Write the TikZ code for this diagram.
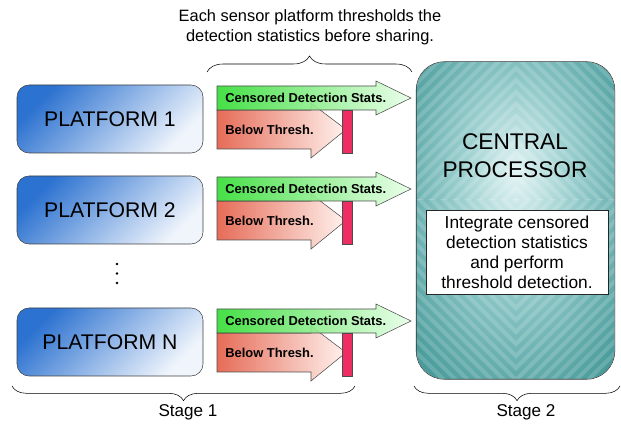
\documentclass[tikz,border=0pt]{standalone}
\usepackage{fontspec}
\setmainfont{Liberation Sans}
\usetikzlibrary{decorations.pathreplacing,positioning}

\definecolor{platblue}{RGB}{44,114,208}
\definecolor{platpale}{RGB}{240,245,252}
\definecolor{censgreen}{RGB}{50,220,50}
\definecolor{censpale}{RGB}{232,255,232}
\definecolor{belowred}{RGB}{230,108,88}
\definecolor{belowpale}{RGB}{255,242,238}
\definecolor{threshbar}{RGB}{238,46,98}
\definecolor{procteal}{RGB}{30,126,126}
\definecolor{procedge}{RGB}{74,156,156}
\definecolor{procmid}{RGB}{150,204,204}
\definecolor{proclight}{RGB}{226,243,243}

\pgfdeclareradialshading{procglow}{\pgfpoint{0bp}{8bp}}{%
  color(0bp)=(proclight); color(15bp)=(procmid); color(34bp)=(procedge);
  color(50bp)=(procteal)}

\tikzset{
  platform/.style={draw=black!75, rounded corners=9pt,
    minimum width=139.5pt, minimum height=51pt,
    top color=platblue, bottom color=platpale, shading angle=45,
    font=\fontsize{15.9}{18}\selectfont},
  censarrow/.style={draw=black!70, left color=censgreen, right color=censpale, fill opacity=0.9},
  belowarrow/.style={draw=black!70, left color=belowred, right color=belowpale},
  arrowtext/.style={anchor=west, inner sep=0pt, font=\bfseries\fontsize{9.7}{11}\selectfont},
  topbrace/.style={decorate, decoration={brace, amplitude=12pt}},
  stagebrace/.style={decorate, decoration={brace, amplitude=11pt}},
  plaintext/.style={align=center, font=\fontsize{12.3}{15}\selectfont},
  stagetext/.style={font=\fontsize{12.8}{15}\selectfont},
}

\begin{document}
\begin{tikzpicture}[x=0.75pt, y=-0.75pt]
  \useasboundingbox (0,0) rectangle (621,427);

  % --- legenda in alto ---
  \node[plaintext] (caption) at (310,27) {Each sensor platform thresholds the\\detection statistics before sharing.};
  \draw[topbrace] (207,72) -- (412,72);

  % --- piattaforme ---
  \node[platform] (plat1) at (110,119) {PLATFORM 1};
  \node[platform] (plat2) at (110,210) {PLATFORM 2};
  \node[platform] (platN) at (110,342) {PLATFORM N};
  \foreach \d in {264,273.5,283}
    \fill (117,\d) circle (1.3);

  % --- frecce di soglia, una per piattaforma ---
  \foreach \y in {119,210,342} {
    \draw[belowarrow] (217,\y-9) -- (311,\y-9) -- (311,\y-16) -- (346,\y+10.5)
      -- (311,\y+39) -- (311,\y+30) -- (217,\y+30) -- cycle;
    \fill[threshbar, draw=black!70] (342,\y-9) rectangle (352,\y+34);
    \draw[censarrow] (217,\y-33) -- (376,\y-33) -- (376,\y-38) -- (411,\y-21)
      -- (376,\y-4) -- (376,\y-9) -- (217,\y-9) -- cycle;
    \node[arrowtext] at (225,\y-21) {Censored Detection Stats.};
    \node[arrowtext] at (225,\y+10.5) {Below Thresh.};
  }

  % --- processore centrale: sfumatura + righe a spina di pesce ---
  \node[rounded corners=21pt, minimum width=148.5pt, minimum height=237.75pt,
    shading=procglow] (proc) at (515.5,220.5) {};
  \begin{scope}
    \clip[rounded corners=21pt] (proc.north west) rectangle (proc.south east);
    \foreach \sx/\sy in {1/1,-1/1,1/-1,-1/-1} {
      \begin{scope}[shift={(516,200)}, xscale=\sx, yscale=\sy]
        \clip (0,0) rectangle (-120,-200);
        \foreach \k in {-324,-312,...,0}
          \draw[white, opacity=0.16, line width=3pt] (\k-220,220) -- (\k+220,-220);
      \end{scope}
    }
  \end{scope}
  \draw[black!80, rounded corners=21pt] (proc.north west) rectangle (proc.south east);
  \node[align=center, font=\fontsize{17}{21}\selectfont] (proclabel) at (515,156) {CENTRAL\\PROCESSOR};
  \node[draw=black!85, fill=white, minimum width=136.5pt, minimum height=63pt,
    align=center, font=\fontsize{13}{15}\selectfont] (note) at (517,252)
    {Integrate censored\\detection statistics\\and perform\\threshold detection.};

  % --- fasi ---
  \draw[stagebrace] (355,386) -- (12,386);
  \draw[stagebrace] (620,386) -- (414,386);
  \node[stagetext] (stage1) at (188,412) {Stage 1};
  \node[stagetext] (stage2) at (526,412) {Stage 2};

\end{tikzpicture}
\end{document}
